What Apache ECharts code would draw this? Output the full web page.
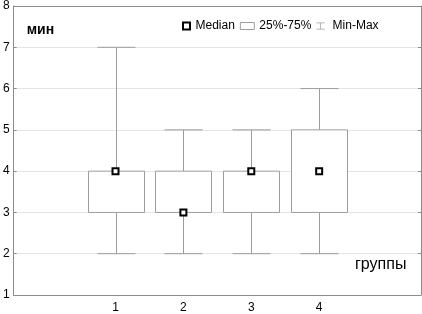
<!DOCTYPE html>
<html>
<head>
<meta charset="utf-8">
<script src="https://cdn.jsdelivr.net/npm/echarts@6/dist/echarts.min.js"></script>
<style>
  html, body { margin: 0; padding: 0; background: #fff; }
  #boxChart { width: 422px; height: 314px; }
</style>
</head>
<body>
<div id="boxChart"></div>
<script>
// x categories (empty slots at both ends give the margin seen in the picture)
const categories = ['', '1', '2', '3', '4', '']
const groupIndex = [1, 2, 3, 4]
const mins = [2, 2, 2, 2]
const q1s = [3, 3, 3, 3]
const medians = [4, 3, 4, 4]
const q3s = [4, 4, 4, 5]
const maxs = [7, 5, 5, 6]

const lineGray = '#9c9c9c'
const axisGray = '#8c8c8c'
const font = 'Liberation Sans, Arial, sans-serif'

function renderWhisker(params, api) {
  const x = api.value(0)
  const pMin = api.coord([x, api.value(1)])
  const pQ1 = api.coord([x, api.value(2)])
  const pQ3 = api.coord([x, api.value(3)])
  const pMax = api.coord([x, api.value(4)])
  const cap = api.size([1, 0])[0] * 0.56
  const cx = Math.round(pMin[0]) + 0.5
  const style = { stroke: lineGray, lineWidth: 1 }
  return {
    type: 'group',
    children: [
      { type: 'line', shape: { x1: cx, y1: pMin[1], x2: cx, y2: pQ1[1] }, style: style },
      { type: 'line', shape: { x1: cx, y1: pQ3[1], x2: cx, y2: pMax[1] }, style: style },
      { type: 'line', shape: { x1: cx - cap / 2, y1: pMin[1], x2: cx + cap / 2, y2: pMin[1] }, style: style },
      { type: 'line', shape: { x1: cx - cap / 2, y1: pMax[1], x2: cx + cap / 2, y2: pMax[1] }, style: style }
    ]
  }
}

function renderBox(params, api) {
  const x = api.value(0)
  const low = api.coord([x, api.value(1)])
  const high = api.coord([x, api.value(2)])
  const w = Math.round(api.size([1, 0])[0] * 0.82)
  const left = Math.round(low[0] - w / 2) + 0.5
  return {
    type: 'rect',
    shape: { x: left, y: high[1], width: w, height: low[1] - high[1] },
    style: { fill: '#fff', stroke: lineGray, lineWidth: 1 }
  }
}

const chart = echarts.init(document.getElementById('boxChart'))
chart.setOption({
  animation: false,
  backgroundColor: '#fff',
  textStyle: { fontFamily: font },
  grid: { left: 13, right: 1, top: 3, bottom: 16 },
  legend: {
    left: 177,
    top: 15,
    itemGap: 5,
    itemWidth: 14,
    itemHeight: 7,
    textStyle: { fontSize: 12, color: '#000', fontFamily: font },
    data: [
      {
        name: 'Median',
        icon: 'path://M0,0H10V10H0Z',
        itemStyle: { color: '#fff', borderColor: '#000', borderWidth: 2 },
        textStyle: { padding: [0, 0, 0, -3] }
      },
      { name: '25%-75%', icon: 'rect', itemStyle: { color: '#fff', borderColor: lineGray, borderWidth: 1 } },
      { name: 'Min-Max', icon: 'path://M0,0H12V1H0Z M5.5,1H6.5V9H5.5Z M0,9H12V10H0Z', itemStyle: { color: lineGray, borderWidth: 0 } }
    ]
  },
  xAxis: [{
    type: 'category',
    data: categories,
    name: 'группы',
    nameLocation: 'end',
    nameGap: -66,
    nameTextStyle: { fontSize: 16, color: '#000', fontFamily: font, verticalAlign: 'bottom', padding: [0, 0, 22, 0] },
    axisLine: { lineStyle: { color: axisGray } },
    axisTick: { inside: true, alignWithLabel: true, length: 3, lineStyle: { color: '#c8c8c8' } },
    axisLabel: { fontSize: 12, color: '#000', margin: 7 },
    splitLine: { show: false }
  }, {
    type: 'category',
    data: categories,
    position: 'top',
    axisLine: { lineStyle: { color: axisGray } },
    axisTick: { inside: true, alignWithLabel: true, length: 3, lineStyle: { color: '#c8c8c8' } },
    axisLabel: { show: false }
  }],
  yAxis: [{
    type: 'value',
    min: 1,
    max: 8,
    interval: 1,
    name: 'мин',
    nameLocation: 'end',
    nameGap: -31,
    nameTextStyle: { fontSize: 14, fontWeight: 'bold', color: '#000', fontFamily: font, align: 'left', padding: [0, 0, 0, 13] },
    axisLine: { show: true, lineStyle: { color: axisGray } },
    axisTick: { show: true, inside: true, length: 3, lineStyle: { color: axisGray } },
    axisLabel: { fontSize: 12, color: '#000', margin: 4 },
    splitLine: { lineStyle: { color: '#e4e4e4' } }
  }, {
    type: 'value',
    min: 1,
    max: 8,
    interval: 1,
    position: 'right',
    axisLine: { show: true, lineStyle: { color: axisGray } },
    axisTick: { show: true, inside: true, length: 3, lineStyle: { color: axisGray } },
    axisLabel: { show: false },
    splitLine: { show: false }
  }],
  series: [
    {
      name: 'Min-Max',
      type: 'custom',
      renderItem: renderWhisker,
      encode: { x: 0, y: [1, 2, 3, 4] },
      z: 2,
      data: groupIndex.map((g, i) => [g, mins[i], q1s[i], q3s[i], maxs[i]])
    },
    {
      name: '25%-75%',
      type: 'custom',
      renderItem: renderBox,
      encode: { x: 0, y: [1, 2] },
      z: 3,
      data: groupIndex.map((g, i) => [g, q1s[i], q3s[i]])
    },
    {
      name: 'Median',
      type: 'scatter',
      symbol: 'rect',
      symbolSize: 6,
      z: 4,
      itemStyle: { color: '#fff', borderColor: '#000', borderWidth: 2, opacity: 1 },
      data: groupIndex.map((g, i) => [g, medians[i]])
    }
  ]
})
</script>
</body>
</html>
